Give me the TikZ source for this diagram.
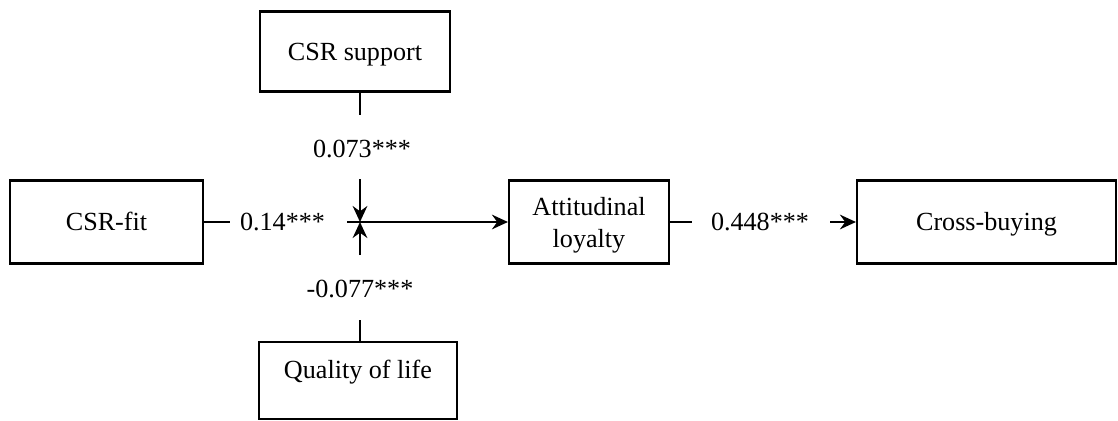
\documentclass[tikz,border=0pt]{standalone}
\usepackage{fontspec}
\setmainfont{Liberation Serif}
\usetikzlibrary{arrows.meta}
\begin{document}
\begin{tikzpicture}[x=0.75pt,y=-0.75pt,
  font=\fontsize{19.6}{24}\selectfont,
  boxframe/.style={draw, line width=1.6pt, inner sep=0pt, align=center},
  varbox/.style={boxframe, text height=12.9pt, text depth=0pt},
  boxtext/.style={inner sep=0pt, align=center},
  coef/.style={inner sep=0pt, text height=13.2pt, text depth=0pt},
  link/.style={line width=1.6pt},
  arrowlink/.style={line width=1.6pt, -{Stealth[length=12pt,width=11pt,inset=4pt]}}]
  \useasboundingbox (0,0) rectangle (1118,421);

  % variables
  \node[varbox, minimum width=193*0.75pt, minimum height=83*0.75pt] (fit) at (106.5,222) {CSR-fit};
  \node[varbox, minimum width=190*0.75pt, minimum height=80*0.75pt] (sup) at (355,51.5) {CSR support};
  \node[boxframe, minimum width=198*0.75pt, minimum height=77*0.75pt,
        label={[varbox, draw=none, yshift=7.9pt]center:Quality of life}] (qol) at (358,380.5) {};
  \node[boxframe, minimum width=160*0.75pt, minimum height=83*0.75pt,
        label={[boxtext, yshift=-2.3pt]center:Attitudinal\\loyalty}] (att) at (589,222) {};
  \node[varbox, minimum width=259*0.75pt, minimum height=83*0.75pt] (cb) at (986.5,222) {Cross-buying};

  % moderation junction and path break points
  \coordinate (j) at (360,222);
  \coordinate (a1) at (230,222);
  \coordinate (a2) at (347,222);
  \coordinate (s1) at (360,115);
  \coordinate (s2) at (360,179);
  \coordinate (q1) at (360,320);
  \coordinate (q2) at (360,255);
  \coordinate (b1) at (692,222);
  \coordinate (b2) at (830,222);

  % coefficients
  \node[coef] (cfit) at (282.5,222) {0.14***};
  \node[coef] (csup) at (362,148.5) {0.073***};
  \node[coef] (cqol) at (360,288.5) {-0.077***};
  \node[coef] (catt) at (760,222) {0.448***};

  % connectors
  \draw[link] (fit.east) -- (a1);
  \draw[arrowlink] (a2) -- (att.west);
  \draw[link] (sup.south -| j) -- (s1);
  \draw[arrowlink] (s2) -- (j);
  \draw[link] (qol.north -| j) -- (q1);
  \draw[arrowlink] (q2) -- (j);
  \draw[link] (att.east) -- (b1);
  \draw[arrowlink] (b2) -- (cb.west);
\end{tikzpicture}
\end{document}
